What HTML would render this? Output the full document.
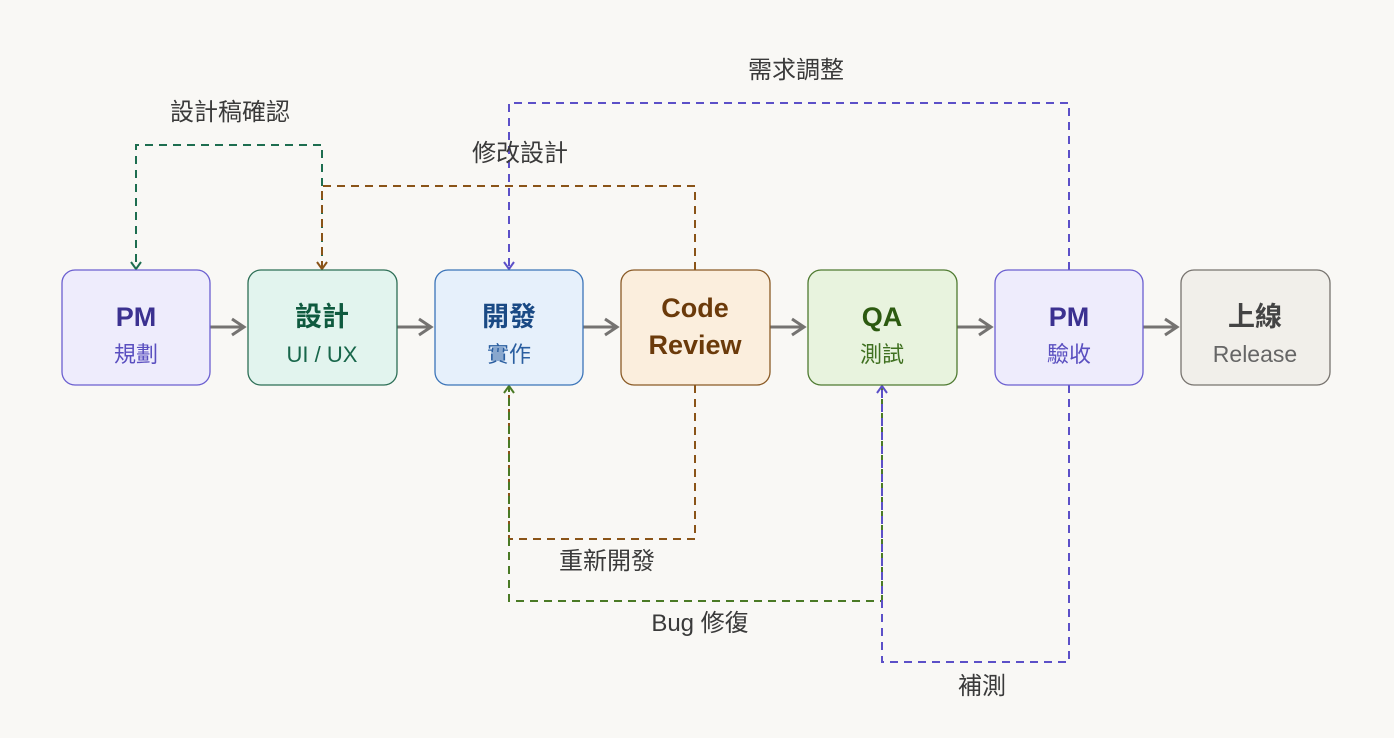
<!DOCTYPE html>
<html><head><meta charset="utf-8"><style>
html,body{margin:0;padding:0;background:#f9f8f5;}
svg{display:block;}
text{font-family:"Liberation Sans","Noto Sans CJK TC",sans-serif;}
</style></head><body>
<svg width="1394" height="738" viewBox="0 0 1394 738" xmlns="http://www.w3.org/2000/svg">
<rect width="1394" height="738" fill="#f9f8f5"/>
<g stroke="#757371" stroke-width="3" fill="none">
<line x1="210" y1="327" x2="244" y2="327"/><polyline points="232,319 244,327 232,335"/>
<line x1="397" y1="327" x2="431" y2="327"/><polyline points="419,319 431,327 419,335"/>
<line x1="583" y1="327" x2="617" y2="327"/><polyline points="605,319 617,327 605,335"/>
<line x1="770" y1="327" x2="804" y2="327"/><polyline points="792,319 804,327 792,335"/>
<line x1="957" y1="327" x2="991" y2="327"/><polyline points="979,319 991,327 979,335"/>
<line x1="1143" y1="327" x2="1177" y2="327"/><polyline points="1165,319 1177,327 1165,335"/>
</g>
<g fill="none" stroke-width="2" stroke-dasharray="8,6">
<polyline stroke="#1e6e50" points="322,270 322,145 136,145 136,268"/>
<polyline stroke="#8a5418" points="695,270 695,186 322,186 322,268"/>
<polyline stroke="#5c50c8" points="1069,270 1069,103 509,103 509,268"/>
<polyline stroke="#8a5418" points="695,385 695,539 509,539 509,387"/>
<polyline stroke="#4a7a25" points="882,385 882,601 509,601 509,387"/>
<polyline stroke="#5c50c8" points="1069,385 1069,662 882,662 882,387"/>
</g>
<g fill="none" stroke-width="2">
<polyline stroke="#1e6e50" points="131,262 136,269 141,262"/>
<polyline stroke="#8a5418" points="317,262 322,269 327,262"/>
<polyline stroke="#5c50c8" points="504,262 509,269 514,262"/>
<polyline stroke="#4a7a25" points="504,393 509,386 514,393"/>
<polyline stroke="#5c50c8" points="877,393 882,386 887,393"/>
</g>
<g fill="#3a3a3a" font-size="24" text-anchor="middle">
<text x="230" y="120">設計稿確認</text>
<text x="520" y="161">修改設計</text>
<text x="796" y="78">需求調整</text>
<text x="607" y="569">重新開發</text>
<text x="700" y="631">Bug 修復</text>
<text x="982" y="694">補測</text>
</g>
<rect x="62" y="270" width="148" height="115" rx="13" fill="#eeecfc" stroke="#6b5fd0" stroke-width="1.3"/>
<rect x="248" y="270" width="149" height="115" rx="13" fill="#e2f4ee" stroke="#2c6e55" stroke-width="1.3"/>
<rect x="435" y="270" width="148" height="115" rx="13" fill="#e6f0fb" stroke="#3b74b8" stroke-width="1.3"/>
<rect x="621" y="270" width="149" height="115" rx="13" fill="#fbeedd" stroke="#8a5a25" stroke-width="1.3"/>
<rect x="808" y="270" width="149" height="115" rx="13" fill="#e8f3de" stroke="#4e7a30" stroke-width="1.3"/>
<rect x="995" y="270" width="148" height="115" rx="13" fill="#eeecfc" stroke="#6b5fd0" stroke-width="1.3"/>
<rect x="1181" y="270" width="149" height="115" rx="13" fill="#f1efea" stroke="#77736e" stroke-width="1.3"/>
<g text-anchor="middle">
<text x="136" y="326" font-size="27" font-weight="bold" fill="#3b3190">PM</text>
<text x="136" y="362" font-size="22" fill="#5a4fc0">規劃</text>
<text x="322" y="326" font-size="27" font-weight="bold" fill="#0f5a3f">設計</text>
<text x="322" y="362" font-size="22" fill="#17664a">UI / UX</text>
<text x="509" y="326" font-size="27" font-weight="bold" fill="#1a4a85">開發</text>
<text x="509" y="362" font-size="22" fill="#2a5ea0">實作</text>
<text x="695" y="317" font-size="27" font-weight="bold" fill="#6b3a0a">Code</text>
<text x="695" y="354" font-size="27" font-weight="bold" fill="#6b3a0a">Review</text>
<text x="882" y="326" font-size="27" font-weight="bold" fill="#2c5a10">QA</text>
<text x="882" y="362" font-size="22" fill="#3f7020">測試</text>
<text x="1069" y="326" font-size="27" font-weight="bold" fill="#3b3190">PM</text>
<text x="1069" y="362" font-size="22" fill="#5a4fc0">驗收</text>
<text x="1255" y="326" font-size="27" font-weight="bold" fill="#444">上線</text>
<text x="1255" y="362" font-size="23" fill="#666">Release</text>
</g>
</svg>
</body></html>
